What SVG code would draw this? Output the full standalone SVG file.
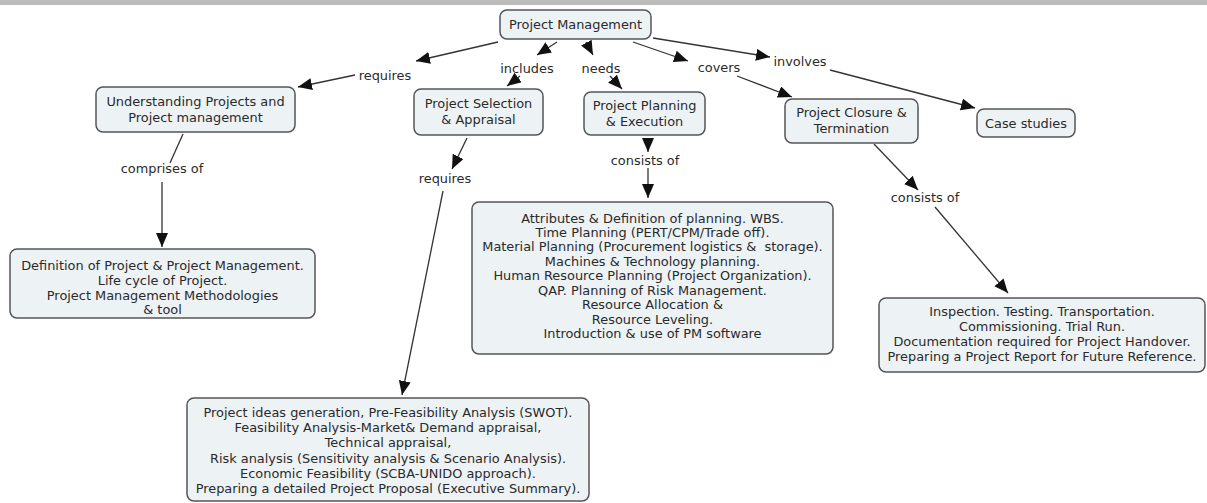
<svg xmlns="http://www.w3.org/2000/svg" width="1207" height="503" viewBox="0 0 1207 503">
<defs>
<marker id="ah" markerUnits="userSpaceOnUse" markerWidth="15" markerHeight="13" refX="14" refY="6" orient="auto">
<path d="M0,0 L14,6 L0,12 z" fill="#111"/>
</marker>
<style>
.n rect{fill:#edf2f5;stroke:#555;stroke-width:1.5}
text{font-family:"DejaVu Sans",Verdana,sans-serif;font-size:12.9px;fill:#2a2a2a;text-anchor:middle}
.c line{stroke:#333;stroke-width:1.3}
.a{marker-end:url(#ah)}
</style>
</defs>
<rect x="0" y="0" width="1207" height="5" fill="#bcbcbc"/>
<g class="c" id="connectors">
<line class="a" x1="498" y1="42" x2="416" y2="61"/>
<line class="a" x1="355" y1="75" x2="298" y2="87"/>
<line class="a" x1="557" y1="42" x2="537" y2="55"/>
<line class="a" x1="520" y1="76" x2="507" y2="86"/>
<line class="a" x1="586" y1="42" x2="593" y2="55"/>
<line class="a" x1="610" y1="76" x2="622" y2="89"/>
<line class="a" x1="633" y1="42" x2="688" y2="61"/>
<line class="a" x1="737" y1="76" x2="792" y2="97"/>
<line class="a" x1="653" y1="38" x2="770" y2="57"/>
<line class="a" x1="830" y1="70" x2="975" y2="108"/>
<line x1="183" y1="134" x2="170" y2="163"/>
<line class="a" x1="162" y1="182" x2="162" y2="247"/>
<line class="a" x1="467" y1="138" x2="452" y2="169"/>
<line class="a" x1="443" y1="191" x2="402" y2="395"/>
<line class="a" x1="648" y1="140" x2="648" y2="152"/>
<line class="a" x1="648" y1="168" x2="648" y2="198"/>
<line class="a" x1="874" y1="144" x2="918" y2="190"/>
<line class="a" x1="935" y1="207" x2="1008" y2="293"/>
</g>
<g id="labels">
<text x="385" y="80">requires</text>
<text x="527" y="73">includes</text>
<text x="601" y="73">needs</text>
<text x="719" y="72">covers</text>
<text x="800" y="66">involves</text>
<text x="162" y="173">comprises of</text>
<text x="445" y="183">requires</text>
<text x="645" y="165">consists of</text>
<text x="925" y="202">consists of</text>
</g>
<g class="n" id="pm">
<rect x="500" y="10" width="151" height="29" rx="7"/>
<text x="575.5" y="29">Project Management</text>
</g>
<g class="n" id="understanding">
<rect x="96" y="87" width="199" height="45" rx="7"/>
<text x="195.5" y="106">Understanding Projects and</text>
<text x="195.5" y="122">Project management</text>
</g>
<g class="n" id="selection">
<rect x="414" y="89" width="129" height="46" rx="7"/>
<text x="478.5" y="108">Project Selection</text>
<text x="478.5" y="124">&amp; Appraisal</text>
</g>
<g class="n" id="planning">
<rect x="584" y="92" width="121" height="43" rx="7"/>
<text x="644.5" y="110">Project Planning</text>
<text x="644.5" y="126">&amp; Execution</text>
</g>
<g class="n" id="closure">
<rect x="785" y="99" width="133" height="44" rx="7"/>
<text x="851.5" y="117">Project Closure &amp;</text>
<text x="851.5" y="133">Termination</text>
</g>
<g class="n" id="cases">
<rect x="977" y="109" width="98" height="28" rx="7"/>
<text x="1026" y="128">Case studies</text>
</g>
<g class="n" id="definition">
<rect x="10" y="249" width="305" height="69" rx="7"/>
<text x="162.5" y="270">Definition of Project &amp; Project Management.</text>
<text x="162.5" y="285">Life cycle of Project.</text>
<text x="162.5" y="300">Project Management Methodologies</text>
<text x="162.5" y="314">&amp; tool</text>
</g>
<g class="n" id="attributes">
<rect x="472" y="202" width="361" height="152" rx="7"/>
<text x="652.5" y="222.5">Attributes &amp; Definition of planning. WBS.</text>
<text x="652.5" y="237">Time Planning (PERT/CPM/Trade off).</text>
<text x="652.5" y="251" xml:space="preserve">Material Planning (Procurement logistics &amp;  storage).</text>
<text x="652.5" y="265.5">Machines &amp; Technology planning.</text>
<text x="652.5" y="280">Human Resource Planning (Project Organization).</text>
<text x="652.5" y="294.5">QAP. Planning of Risk Management.</text>
<text x="652.5" y="309">Resource Allocation &amp;</text>
<text x="652.5" y="323.5">Resource Leveling.</text>
<text x="652.5" y="338">Introduction &amp; use of PM software</text>
</g>
<g class="n" id="inspection">
<rect x="879" y="298" width="326" height="74" rx="7"/>
<text x="1042" y="316">Inspection. Testing. Transportation.</text>
<text x="1042" y="331">Commissioning. Trial Run.</text>
<text x="1042" y="346">Documentation required for Project Handover.</text>
<text x="1042" y="361">Preparing a Project Report for Future Reference.</text>
</g>
<g class="n" id="ideas">
<rect x="187" y="398" width="402" height="103" rx="7"/>
<text x="388" y="417">Project ideas generation, Pre-Feasibility Analysis (SWOT).</text>
<text x="388" y="432">Feasibility Analysis-Market&amp; Demand appraisal,</text>
<text x="388" y="447">Technical appraisal,</text>
<text x="388" y="463">Risk analysis (Sensitivity analysis &amp; Scenario Analysis).</text>
<text x="388" y="478">Economic Feasibility (SCBA-UNIDO approach).</text>
<text x="388" y="493">Preparing a detailed Project Proposal (Executive Summary).</text>
</g>
</svg>
